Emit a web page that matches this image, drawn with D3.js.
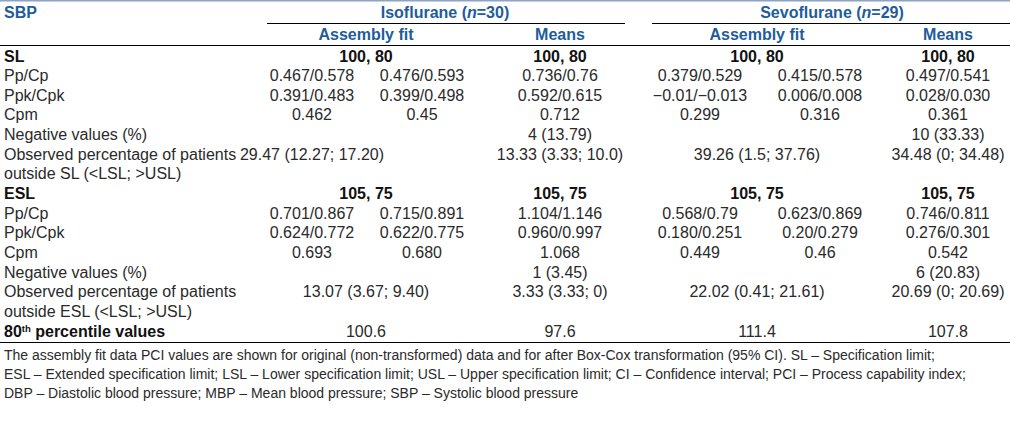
<!DOCTYPE html>
<html>
<head>
<meta charset="utf-8">
<script src="https://cdn.jsdelivr.net/npm/d3@7"></script>
<style>
  html, body { margin: 0; padding: 0; background: #fff; }
  svg { display: block; }
  text { font-family: "Liberation Sans", Arial, sans-serif; }
</style>
</head>
<body>
<svg id="chart" width="1010" height="430"></svg>
<script>
// ---------- data ----------
const stubHeader = "SBP";
const groups = ["Isoflurane", "Sevoflurane"];
const groupN = ["30", "29"];
const subHeaders = ["Assembly fit", "Means"];

const rowLabels = [
  ["SL"], ["Pp/Cp"], ["Ppk/Cpk"], ["Cpm"], ["Negative values (%)"],
  ["Observed percentage of patients", "outside SL (<LSL; >USL)"],
  ["ESL"], ["Pp/Cp"], ["Ppk/Cpk"], ["Cpm"], ["Negative values (%)"],
  ["Observed percentage of patients", "outside ESL (<LSL; >USL)"],
  ["80th percentile values"]
];
const rowTypes = ["section","data","data","data","data","data",
                  "section","data","data","data","data","data","total"];

// assembly fit cells: A = original data, B = after Box-Cox; "span" rows hold one value across both
const isoAssemblyA = ["100, 80","0.467/0.578","0.391/0.483","0.462","","29.47 (12.27; 17.20)",
                      "105, 75","0.701/0.867","0.624/0.772","0.693","","13.07 (3.67; 9.40)","100.6"];
const isoAssemblyB = ["","0.476/0.593","0.399/0.498","0.45","","",
                      "","0.715/0.891","0.622/0.775","0.680","","",""];
const isoAssemblySpan = [true,false,false,false,false,false,true,false,false,false,false,true,true];
const isoMeans     = ["100, 80","0.736/0.76","0.592/0.615","0.712","4 (13.79)","13.33 (3.33; 10.0)",
                      "105, 75","1.104/1.146","0.960/0.997","1.068","1 (3.45)","3.33 (3.33; 0)","97.6"];
const sevoAssemblyA = ["100, 80","0.379/0.529","\u22120.01/\u22120.013","0.299","","39.26 (1.5; 37.76)",
                       "105, 75","0.568/0.79","0.180/0.251","0.449","","22.02 (0.41; 21.61)","111.4"];
const sevoAssemblyB = ["","0.415/0.578","0.006/0.008","0.316","","",
                       "","0.623/0.869","0.20/0.279","0.46","","",""];
const sevoAssemblySpan = [true,false,false,false,false,true,true,false,false,false,false,true,true];
const sevoMeans     = ["100, 80","0.497/0.541","0.028/0.030","0.361","10 (33.33)","34.48 (0; 34.48)",
                       "105, 75","0.746/0.811","0.276/0.301","0.542","6 (20.83)","20.69 (0; 20.69)","107.8"];

const footnotes = [
  "The assembly fit data PCI values are shown for original (non-transformed) data and for after Box-Cox transformation (95% CI). SL \u2013 Specification limit;",
  "ESL \u2013 Extended specification limit; LSL \u2013 Lower specification limit; USL \u2013 Upper specification limit; CI \u2013 Confidence interval; PCI \u2013 Process capability index;",
  "DBP \u2013 Diastolic blood pressure; MBP \u2013 Mean blood pressure; SBP \u2013 Systolic blood pressure"
];

// ---------- layout ----------
const W = 1010;
const blue = "#1e5c9b";
const ink = "#2a2a2a";
const bodySize = 16, footSize = 14;
const svg = d3.select("#chart");

const colKeys = ["isoA","isoB","isoAF","isoM","sevA","sevB","sevAF","sevM","isoG","sevG"];
const colX = d3.scaleOrdinal().domain(colKeys)
  .range([312, 422, 366, 560, 700, 820, 757, 948, 445, 832]);

const nLines = rowLabels.reduce((s, r) => s + r.length, 0);
const yLine = d3.scaleLinear().domain([0, nLines - 1]).range([61.5, 336.5]);

svg.append("line").attr("x1", 0).attr("x2", W).attr("y1", 0.5).attr("y2", 0.5)
  .attr("stroke", "#8ba3c4").attr("stroke-width", 2);
svg.append("line").attr("x1", 0).attr("x2", W).attr("y1", 45.5).attr("y2", 45.5)
  .attr("stroke", "#000").attr("stroke-width", 1.2);
svg.append("line").attr("x1", 267).attr("x2", 625).attr("y1", 23.5).attr("y2", 23.5)
  .attr("stroke", "#000").attr("stroke-width", 1);
svg.append("line").attr("x1", 652).attr("x2", W).attr("y1", 23.5).attr("y2", 23.5)
  .attr("stroke", "#000").attr("stroke-width", 1);
svg.append("line").attr("x1", 0).attr("x2", W).attr("y1", 342.5).attr("y2", 342.5)
  .attr("stroke", "#000").attr("stroke-width", 1.2);

const hdr = svg.append("g").attr("fill", blue).attr("font-weight", "bold").attr("font-size", bodySize);
hdr.append("text").attr("x", 4).attr("y", 17.5).text(stubHeader);
groups.forEach((g, i) => {
  const t = hdr.append("text").attr("x", colX(i === 0 ? "isoG" : "sevG")).attr("y", 17.5)
    .attr("text-anchor", "middle");
  t.append("tspan").text(g + " (");
  t.append("tspan").attr("font-style", "italic").text("n");
  t.append("tspan").text("=" + groupN[i] + ")");
});
[["isoAF", 0], ["isoM", 1], ["sevAF", 0], ["sevM", 1]].forEach(([k, s]) => {
  hdr.append("text").attr("x", colX(k)).attr("y", 39.5).attr("text-anchor", "middle").text(subHeaders[s]);
});

const body = svg.append("g").attr("font-size", bodySize).attr("fill", ink);
let li = 0;
rowLabels.forEach((lines, r) => {
  const bold = rowTypes[r] !== "data";
  const y0 = yLine(li);
  lines.forEach((ln, k) => {
    const t = body.append("text").attr("x", 4).attr("y", yLine(li + k))
      .attr("font-weight", bold ? "bold" : null).attr("fill", bold ? "#111" : ink);
    if (rowTypes[r] === "total") {
      t.append("tspan").text("80");
      t.append("tspan").attr("font-size", 9.5).attr("dy", -5).text("th");
      t.append("tspan").attr("dy", 5).text(" percentile values");
    } else {
      t.text(ln);
    }
  });
  const cellBold = rowTypes[r] === "section";
  const cells = [];
  if (isoAssemblySpan[r]) cells.push(["isoAF", isoAssemblyA[r]]);
  else { cells.push(["isoA", isoAssemblyA[r]]); cells.push(["isoB", isoAssemblyB[r]]); }
  cells.push(["isoM", isoMeans[r]]);
  if (sevoAssemblySpan[r]) cells.push(["sevAF", sevoAssemblyA[r]]);
  else { cells.push(["sevA", sevoAssemblyA[r]]); cells.push(["sevB", sevoAssemblyB[r]]); }
  cells.push(["sevM", sevoMeans[r]]);
  cells.filter(c => c[1] !== "").forEach(([k, v]) => {
    body.append("text").attr("x", colX(k)).attr("y", y0).attr("text-anchor", "middle")
      .attr("font-weight", cellBold ? "bold" : null).attr("fill", cellBold ? "#111" : ink)
      .text(v);
  });
  li += lines.length;
});

const foot = svg.append("g").attr("font-size", footSize).attr("fill", ink);
foot.selectAll("text").data(footnotes).join("text")
  .attr("x", 4).attr("y", (d, i) => 360 + i * 19.2).text(d => d);
</script>
</body>
</html>
